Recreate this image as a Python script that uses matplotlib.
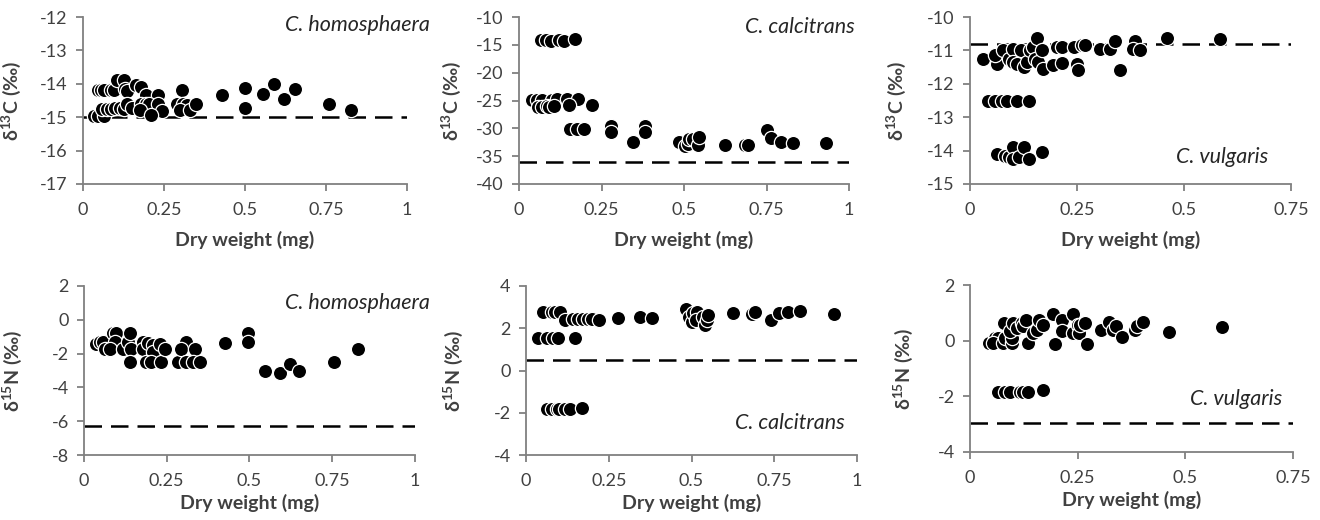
import matplotlib
matplotlib.use("Agg")
import matplotlib.pyplot as plt

plt.rcParams['font.family'] = ['Lato', 'DejaVu Sans']
plt.rcParams['axes.unicode_minus'] = False
plt.rcParams['mathtext.fontset'] = 'custom'
plt.rcParams['mathtext.rm'] = 'Lato:bold'
plt.rcParams['mathtext.it'] = 'Lato:bold:italic'
plt.rcParams['mathtext.bf'] = 'Lato:bold'
plt.rcParams['mathtext.default'] = 'regular'

# ---------------- data ----------------
# delta13C, C. homosphaera
hom_c_x = [0.035, 0.045, 0.065, 0.045, 0.055, 0.065, 0.085, 0.095, 0.06, 0.075, 0.085, 0.10, 0.115, 0.125,
           0.105, 0.125, 0.13, 0.135, 0.135, 0.15, 0.165, 0.18, 0.195, 0.23, 0.18, 0.195, 0.205, 0.23,
           0.175, 0.245, 0.21, 0.305, 0.29, 0.31, 0.32, 0.30, 0.33, 0.35, 0.43, 0.50, 0.50, 0.555, 0.59,
           0.62, 0.655, 0.76, 0.827]
hom_c_y = [-14.95, -14.95, -14.95, -14.18, -14.18, -14.18, -14.18, -14.2, -14.75, -14.75, -14.75, -14.72,
           -14.72, -14.75, -13.9, -13.9, -14.15, -14.22, -14.6, -14.72, -14.05, -14.1, -14.35, -14.35,
           -14.6, -14.6, -14.6, -14.6, -14.78, -14.8, -14.92, -14.2, -14.6, -14.6, -14.62, -14.78, -14.78,
           -14.6, -14.35, -14.13, -14.72, -14.3, -14.02, -14.45, -14.17, -14.6, -14.78]

# delta13C, C. calcitrans
cal_c_x = [0.066, 0.081, 0.096, 0.121, 0.136, 0.17,
           0.04, 0.056, 0.071, 0.10, 0.116, 0.146, 0.18,
           0.058, 0.07, 0.086, 0.092, 0.105, 0.152, 0.22,
           0.154, 0.175, 0.197, 0.28, 0.28, 0.346, 0.381, 0.381,
           0.485, 0.502, 0.513, 0.516, 0.528, 0.543, 0.546,
           0.624, 0.684, 0.694, 0.75, 0.765, 0.795, 0.83, 0.93]
cal_c_y = [-14.13, -14.13, -14.4, -14.13, -14.4, -14.0,
           -24.9, -24.9, -24.9, -24.9, -24.7, -24.7, -24.8,
           -26.1, -26.1, -26.0, -26.1, -26.0, -25.8, -25.8,
           -30.2, -30.2, -30.2, -29.6, -30.6, -32.5, -29.6, -30.6,
           -32.5, -33.25, -32.8, -32.0, -31.9, -33.0, -31.6,
           -33.0, -33.0, -33.0, -30.3, -31.65, -32.5, -32.6, -32.6]

# delta13C, C. vulgaris
vul_c_x = [0.031, 0.062, 0.058, 0.078, 0.09, 0.10, 0.10, 0.11, 0.125, 0.12, 0.133, 0.14, 0.148, 0.152,
           0.16, 0.156, 0.168, 0.171, 0.193, 0.203, 0.214, 0.214, 0.242, 0.249, 0.253, 0.261, 0.269,
           0.304, 0.327, 0.339, 0.351, 0.386, 0.382, 0.397, 0.46, 0.585,
           0.043, 0.058, 0.074, 0.086, 0.109, 0.137,
           0.062, 0.082, 0.09, 0.10, 0.10, 0.115, 0.126, 0.137, 0.169]
vul_c_y = [-11.26, -11.4, -11.15, -11.0, -11.25, -10.97, -11.35, -11.4, -11.5, -11.0, -11.35, -10.98,
           -10.9, -11.25, -11.35, -10.63, -10.98, -11.55, -11.45, -10.9, -10.9, -11.38, -10.9, -11.4,
           -11.6, -10.83, -10.83, -10.97, -10.95, -10.73, -11.6, -10.73, -10.95, -11.0, -10.63, -10.66,
           -12.5, -12.5, -12.5, -12.5, -12.5, -12.5,
           -14.1, -14.17, -14.2, -13.89, -14.24, -14.2, -13.89, -14.24, -14.04]

# delta15N, C. homosphaera
hom_n_x = [0.037, 0.047, 0.057, 0.062, 0.088, 0.098, 0.093, 0.078, 0.118, 0.133, 0.138, 0.143, 0.138,
           0.178, 0.178, 0.193, 0.209, 0.209, 0.188, 0.203, 0.234, 0.229, 0.244, 0.284, 0.307, 0.294,
           0.309, 0.335, 0.33, 0.35, 0.427, 0.496, 0.496, 0.548, 0.592, 0.622, 0.65, 0.755, 0.827]
hom_n_y = [-1.43, -1.3, -1.3, -1.75, -0.8, -0.76, -1.3, -1.75, -1.75, -1.3, -0.76, -1.75, -2.48, -1.3,
           -1.75, -1.4, -1.5, -1.9, -2.48, -2.48, -2.48, -1.45, -1.75, -2.48, -1.3, -1.75, -2.48, -1.75,
           -2.48, -2.48, -1.4, -0.8, -1.3, -3.03, -3.17, -2.6, -3.03, -2.48, -1.73]

# delta15N, C. calcitrans
cal_n_x = [0.052, 0.078, 0.088, 0.103, 0.118, 0.037, 0.062, 0.083, 0.098, 0.148, 0.143, 0.158, 0.173,
           0.188, 0.199, 0.222, 0.277, 0.345, 0.38, 0.484, 0.491, 0.501, 0.506, 0.516, 0.514, 0.536,
           0.541, 0.546, 0.55, 0.625, 0.682, 0.692, 0.741, 0.763, 0.793, 0.829, 0.932,
           0.062, 0.078, 0.093, 0.10, 0.118, 0.133, 0.168]
cal_n_y = [2.79, 2.79, 2.79, 2.79, 2.39, 1.52, 1.52, 1.52, 1.52, 1.52, 2.42, 2.42, 2.42, 2.42, 2.42,
           2.39, 2.47, 2.55, 2.47, 2.9, 2.55, 2.31, 2.7, 2.79, 2.4, 2.55, 2.15, 2.4, 2.63, 2.71, 2.66,
           2.79, 2.39, 2.71, 2.79, 2.83, 2.66,
           -1.84, -1.84, -1.84, -1.84, -1.84, -1.84, -1.76]

# delta15N, C. vulgaris
vul_n_x = [0.043, 0.058, 0.066, 0.054, 0.077, 0.081, 0.079, 0.097, 0.097, 0.093, 0.10, 0.108, 0.12,
           0.124, 0.131, 0.135, 0.147, 0.155, 0.161, 0.17, 0.192, 0.197, 0.213, 0.213, 0.24, 0.24,
           0.251, 0.254, 0.255, 0.267, 0.271, 0.305, 0.323, 0.333, 0.338, 0.353, 0.383, 0.388, 0.402,
           0.462, 0.585,
           0.066, 0.081, 0.094, 0.116, 0.124, 0.135, 0.17]
vul_n_y = [-0.09, 0.09, 0.09, -0.09, -0.09, 0.09, 0.63, -0.09, 0.09, 0.33, 0.63, 0.45, 0.63, 0.51,
           0.75, -0.09, 0.27, 0.39, 0.75, 0.57, 0.97, -0.11, 0.73, 0.33, 0.97, 0.27, 0.57, 0.27, 0.57,
           0.63, -0.11, 0.39, 0.66, 0.39, 0.51, 0.12, 0.39, 0.54, 0.66, 0.3, 0.49,
           -1.83, -1.83, -1.83, -1.83, -1.83, -1.83, -1.77]

# reference (dashed) values
ref_values = [-15.0, -36.0, -10.8, -6.3, 0.5, -2.95]

species = ["C. homosphaera", "C. calcitrans", "C. vulgaris",
           "C. homosphaera", "C. calcitrans", "C. vulgaris"]

x_ticks_1 = [0, 0.25, 0.5, 0.75, 1]
x_ticklabels_1 = ["0", "0.25", "0.5", "0.75", "1"]
x_ticks_075 = [0, 0.25, 0.5, 0.75]
x_ticklabels_075 = ["0", "0.25", "0.5", "0.75"]

y_ticks = [[-17, -16, -15, -14, -13, -12],
           [-40, -35, -30, -25, -20, -15, -10],
           [-15, -14, -13, -12, -11, -10],
           [-8, -6, -4, -2, 0, 2],
           [-4, -2, 0, 2, 4],
           [-4, -2, 0, 2]]

xlabel = "Dry weight (mg)"
ylabel_c = "δ$^{13}$C (‰)"
ylabel_n = "δ$^{15}$N (‰)"

# ---------------- layout ----------------
fig = plt.figure(figsize=(13.2, 5.2), dpi=100)

W, H = 1320.0, 520.0
def rect(l, r, t, b):
    return [l / W, 1 - b / H, (r - l) / W, (b - t) / H]

rects = [rect(83, 407, 17, 184), rect(519, 849, 17, 184), rect(970, 1291, 17, 184),
         rect(84, 415, 286, 455), rect(526, 857, 286, 455), rect(970, 1293, 285, 452)]

panels = [
    (hom_c_x, hom_c_y, x_ticks_1, x_ticklabels_1, ylabel_c),
    (cal_c_x, cal_c_y, x_ticks_1, x_ticklabels_1, ylabel_c),
    (vul_c_x, vul_c_y, x_ticks_075, x_ticklabels_075, ylabel_c),
    (hom_n_x, hom_n_y, x_ticks_1, x_ticklabels_1, ylabel_n),
    (cal_n_x, cal_n_y, x_ticks_1, x_ticklabels_1, ylabel_n),
    (vul_n_x, vul_n_y, x_ticks_075, x_ticklabels_075, ylabel_n),
]

species_pos = [(1.07, 0.95), (1.018, 0.94), (0.928, 0.16),
               (1.045, 0.90), (0.964, 0.19), (0.966, 0.32)]
ylabel_x = [-0.185, -0.17, -0.193, -0.181, -0.184, -0.17]
xlabel_y = [-0.335, -0.335, -0.335, -0.282, -0.282, -0.29]

spine_col = '#808080'
text_col = '#404040'

for i, (xs, ys, xt, xtl, ylab) in enumerate(panels):
    ax = fig.add_axes(rects[i])
    yt = y_ticks[i]
    ax.set_xlim(xt[0], xt[-1])
    ax.set_ylim(yt[0], yt[-1])
    ax.axhline(ref_values[i], color='black', lw=1.8, linestyle=(0, (7.0, 3.6)), zorder=1)
    ax.scatter(xs, ys, s=105, c='black', edgecolors='white', linewidths=0.9, zorder=3, clip_on=False)
    ax.set_xticks(xt)
    ax.set_xticklabels(xtl)
    ax.set_yticks(yt)
    ax.set_yticklabels([str(v) for v in yt])
    for s in ['top', 'right']:
        ax.spines[s].set_visible(False)
    for s in ['left', 'bottom']:
        ax.spines[s].set_color(spine_col)
        ax.spines[s].set_linewidth(1.3)
    ax.tick_params(axis='both', direction='out', length=5, width=1.3, color=spine_col,
                   labelsize=13, labelcolor=text_col)
    ax.tick_params(axis='x', pad=8)
    ax.tick_params(axis='y', pad=6)
    ax.set_ylabel(ylab, fontsize=14, fontweight='bold', color=text_col)
    ax.yaxis.set_label_coords(ylabel_x[i], 0.5)
    ax.set_xlabel(xlabel, fontsize=14, fontweight='bold', color=text_col)
    ax.xaxis.set_label_coords(0.5, xlabel_y[i])
    ax.xaxis.label.set_verticalalignment('center')
    ax.text(species_pos[i][0], species_pos[i][1], species[i], transform=ax.transAxes,
            ha='right', va='center', fontsize=15.5, style='italic', color='#262626')

fig.savefig("out.png", dpi=100)
